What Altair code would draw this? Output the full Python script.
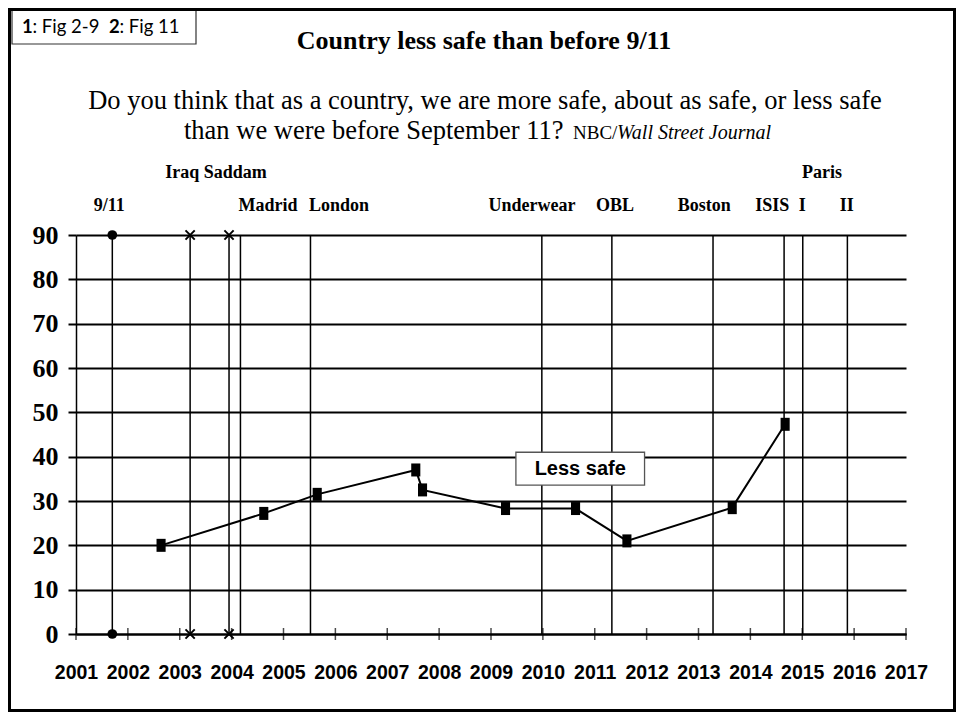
import altair as alt
import pandas as pd

# ---------------- data ----------------
survey_year = [2002.64, 2004.62, 2005.65, 2007.55, 2007.68, 2009.28, 2010.63, 2011.62, 2013.65, 2014.67]
less_safe = [20.0, 27.2, 31.5, 37.0, 32.5, 28.3, 28.3, 21.0, 28.5, 47.3]

event_year = [2001.70, 2003.20, 2003.95, 2004.17, 2005.52, 2009.98, 2011.33, 2013.28, 2014.65, 2015.01, 2015.87]
dot_events = [2001.70]
x_events = [2003.20, 2003.95]

label_text = ["9/11", "Iraq Saddam", "Madrid", "London", "Underwear", "OBL", "Boston", "ISIS", "I", "II", "Paris"]
label_year = [2001.64, 2003.70, 2004.70, 2006.07, 2009.79, 2011.39, 2013.11, 2014.42, 2015.00, 2015.86, 2015.38]
label_row = [2, 1, 2, 2, 2, 2, 2, 2, 2, 2, 1]

axis_years = list(range(2001, 2018))
axis_values = list(range(0, 100, 10))
y_lo, y_hi = 0, 90

series_label = "Less safe"
series_label_year, series_label_value = 2010.72, 37.3
series_box = dict(year=2009.48, year2=2011.96, value=33.6, value2=41.0)

title_text = "Country less safe than before 9/11"
sub1 = "Do you think that as a country, we are more safe, about as safe, or less safe"
sub2 = "than we were before September 11?"
src1 = "NBC/"
src2 = "Wall Street Journal"

# ---------------- frames ----------------
df_line = pd.DataFrame({"year": survey_year, "value": less_safe})
df_rules = pd.DataFrame({"year": event_year, "value": [y_lo] * len(event_year), "value2": [y_hi] * len(event_year)})
df_dots = pd.DataFrame({"year": dot_events * 2, "value": [y_lo] * len(dot_events) + [y_hi] * len(dot_events)})
df_x = pd.DataFrame({"year": x_events * 2, "value": [y_lo] * len(x_events) + [y_hi] * len(x_events)})
df_ticks = pd.DataFrame({"year": axis_years, "value": [0] * len(axis_years)})
df_labels = pd.DataFrame({"year": label_year, "label": label_text, "row": label_row})
df_box = pd.DataFrame([series_box])
df_sl = pd.DataFrame({"year": [series_label_year], "value": [series_label_value], "t": [series_label]})
one = pd.DataFrame({"k": [0]})

SERIF = "Liberation Serif, Times New Roman, serif"
SANS = "Liberation Sans, Arial, sans-serif"
NARROW = "Liberation Sans Narrow, Arial Narrow, Liberation Sans, sans-serif"

xscale = alt.Scale(domain=[2001, 2017], nice=False, zero=False)
yscale = alt.Scale(domain=[0, 90], nice=False, zero=False)
xaxis = alt.Axis(values=axis_years, format="d", ticks=False, tickSize=0, grid=False,
                 domain=True, domainColor="black", domainWidth=2,
                 labelFont=NARROW, labelFontWeight="bold", labelFontSize=19.5, labelColor="black",
                 labelPadding=44, labelBaseline="alphabetic", labelOverlap=False, labelFlush=False,
                 title=None)
yaxis = alt.Axis(values=axis_values, grid=True, gridColor="black", gridWidth=2, gridOpacity=1,
                 domain=True, domainColor="black", domainWidth=1.5,
                 ticks=True, tickSize=8, tickWidth=2, tickColor="black",
                 labelFont=SERIF, labelFontWeight="bold", labelFontSize=26, labelColor="black",
                 labelPadding=10, labelOverlap=False, labelFlush=False, title=None)
X = alt.X("year:Q", scale=xscale, axis=xaxis)
Y = alt.Y("value:Q", scale=yscale, axis=yaxis)

rules = alt.Chart(df_rules).mark_rule(color="black", strokeWidth=1.5).encode(x=X, y=Y, y2="value2:Q")
ticks = alt.Chart(df_ticks).mark_tick(orient="vertical", size=12, thickness=1.5, color="black").encode(x=X, y=Y)
line = alt.Chart(df_line).mark_line(color="black", strokeWidth=2).encode(x=X, y=Y)
pts = alt.Chart(df_line).mark_point(shape="M-0.7,-1H0.7V1H-0.7Z", size=169, filled=True,
                                    color="black", opacity=1).encode(x=X, y=Y)
dots = alt.Chart(df_dots).mark_point(shape="circle", size=95, filled=True, color="black", opacity=1).encode(x=X, y=Y)
xs = alt.Chart(df_x).mark_point(shape="M-1,-1L1,1M-1,1L1,-1", size=85, filled=False,
                                color="black", strokeWidth=2, opacity=1).encode(x=X, y=Y)
box = alt.Chart(df_box).mark_rect(fill="white", stroke="#555555", strokeWidth=1.3).encode(
    x=X, x2="year2:Q", y=Y, y2="value2:Q")
sl = alt.Chart(df_sl).mark_text(font=SANS, fontWeight="bold", fontSize=20, color="black",
                                align="center", baseline="middle").encode(x=X, y=Y, text="t:N")

lab_top = alt.Chart(df_labels).transform_filter("datum.row == 1").mark_text(
    font=SERIF, fontWeight="bold", fontSize=18, color="black", align="center", baseline="alphabetic"
).encode(x=X, y=alt.value(-57), text="label:N")
lab_bot = alt.Chart(df_labels).transform_filter("datum.row == 2").mark_text(
    font=SERIF, fontWeight="bold", fontSize=18, color="black", align="center", baseline="alphabetic"
).encode(x=X, y=alt.value(-24), text="label:N")


def txt(s, x, y, **kw):
    return alt.Chart(one).mark_text(text=s, color="black", baseline="alphabetic", **kw).encode(
        x=alt.value(x), y=alt.value(y))


title = txt(title_text, 408, -186, font=SERIF, fontWeight="bold", fontSize=26, align="center")
line1 = txt(sub1, 409, -126, font=SERIF, fontSize=26.5, align="center")
line2 = txt(sub2, 108, -96, font=SERIF, fontSize=26.5, align="left")
line2b = txt(src1, 497, -96, font=SERIF, fontSize=19, align="left")
line2c = txt(src2, 541, -96, font=SERIF, fontSize=20, fontStyle="italic", align="left")

figbox = alt.Chart(one).mark_rect(fill="white", stroke="#333333", strokeWidth=1.2).encode(
    x=alt.value(-64), x2=alt.value(120), y=alt.value(-224.5), y2=alt.value(-191))
LATO = "Lato, Open Sans, sans-serif"
f1 = txt("1", -54, -202, font=LATO, fontWeight="bold", fontSize=18.5, align="left")
f2 = txt(": Fig 2-9", -43.5, -202, font=LATO, fontSize=18.5, align="left")
f3 = txt("2", 33, -202, font=LATO, fontWeight="bold", fontSize=18.5, align="left")
f4 = txt(": Fig 11", 43.5, -202, font=LATO, fontSize=18.5, align="left")

border = alt.Chart(one).mark_rect(fill="transparent", stroke="black", strokeWidth=3).encode(
    x=alt.value(-66.5), x2=alt.value(878.5), y=alt.value(-225.5), y2=alt.value(475.5))

chart = alt.layer(
    rules, ticks, line, pts, dots, xs, box, sl, lab_top, lab_bot,
    title, line1, line2, line2b, line2c, figbox, f1, f2, f3, f4, border
).properties(
    width=830, height=399,
    autosize=alt.AutoSizeParams(type="none"),
    padding={"left": 68, "top": 227, "right": 50, "bottom": 78},
    background="white",
).configure_view(strokeWidth=0)

chart.save("out.html", embed_options={"renderer": "svg", "actions": False})
